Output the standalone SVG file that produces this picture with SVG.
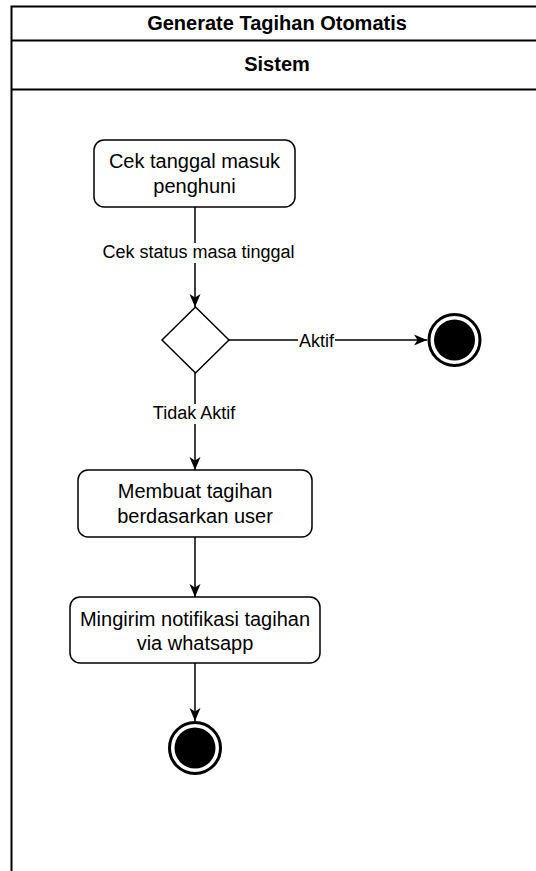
<svg xmlns="http://www.w3.org/2000/svg" width="536" height="871" viewBox="0 0 536 871">
  <style>
    .frame { fill: none; stroke: #000; stroke-width: 2; }
    .act { fill: #fff; stroke: #000; stroke-width: 1.5; }
    .edge { fill: none; stroke: #000; stroke-width: 1.5; }
    .txt { font-family: "Liberation Sans", Arial, sans-serif; font-size: 20px; fill: #000; text-anchor: middle; }
    .hdr { font-family: "Liberation Sans", Arial, sans-serif; font-size: 20px; font-weight: bold; fill: #000; text-anchor: middle; }
    .lbl { font-family: "Liberation Sans", Arial, sans-serif; font-size: 18px; fill: #000; text-anchor: middle; }
    .lblbg { fill: #fff; }
  </style>
  <defs>
    <marker id="arrow" viewBox="0 0 14 14" refX="13" refY="7" markerWidth="14" markerHeight="14" markerUnits="userSpaceOnUse" orient="auto">
      <path d="M0,1.5 L13,7 L0,12.5 L3.5,7 Z" fill="#000"/>
    </marker>
  </defs>
  <rect width="536" height="871" fill="#fff"/>

  <!-- swimlane frame -->
  <g id="swimlane">
    <path class="frame" d="M545,6.5 H11.5 V880"/>
    <line class="frame" x1="11.5" y1="40.5" x2="545" y2="40.5"/>
    <line class="frame" x1="11.5" y1="89.5" x2="545" y2="89.5"/>
    <text class="hdr" x="277" y="30">Generate Tagihan Otomatis</text>
    <text class="hdr" x="277" y="71">Sistem</text>
  </g>

  <!-- connectors -->
  <g id="connectors">
    <line class="edge" x1="195" y1="207" x2="195" y2="307" marker-end="url(#arrow)"/>
    <rect class="lblbg" x="100" y="243" width="198" height="20"/>
    <text class="lbl" x="198.5" y="258">Cek status masa tinggal</text>

    <line class="edge" x1="229" y1="340" x2="427" y2="340" marker-end="url(#arrow)"/>
    <rect class="lblbg" x="298" y="331" width="37" height="20"/>
    <text class="lbl" x="316.5" y="347">Aktif</text>

    <line class="edge" x1="195" y1="373" x2="195" y2="470" marker-end="url(#arrow)"/>
    <rect class="lblbg" x="150" y="404" width="88" height="20"/>
    <text class="lbl" x="194" y="419">Tidak Aktif</text>

    <line class="edge" x1="195" y1="537" x2="195" y2="597" marker-end="url(#arrow)"/>
    <line class="edge" x1="195" y1="663" x2="195" y2="721" marker-end="url(#arrow)"/>
  </g>

  <g id="cek-tanggal">
    <rect class="act" x="94" y="140" width="201" height="67" rx="10"/>
    <text class="txt" x="194.5" y="168">Cek tanggal masuk</text>
    <text class="txt" x="194.5" y="193">penghuni</text>
  </g>

  <g id="decision">
    <polygon class="act" points="195.5,307 229,340 195.5,373 162,340"/>
  </g>

  <g id="end-aktif">
    <circle cx="454.5" cy="340" r="25.5" fill="#fff" stroke="#000" stroke-width="3"/>
    <circle cx="454.5" cy="340" r="20.5" fill="#000"/>
  </g>

  <g id="membuat-tagihan">
    <rect class="act" x="78" y="470" width="234" height="67" rx="10"/>
    <text class="txt" x="195" y="498">Membuat tagihan</text>
    <text class="txt" x="195" y="523">berdasarkan user</text>
  </g>

  <g id="kirim-notifikasi">
    <rect class="act" x="70" y="597" width="250" height="66" rx="10"/>
    <text class="txt" x="195" y="626">Mingirim notifikasi tagihan</text>
    <text class="txt" x="195" y="650">via whatsapp</text>
  </g>

  <g id="end-final">
    <circle cx="195" cy="748" r="25.5" fill="#fff" stroke="#000" stroke-width="3"/>
    <circle cx="195" cy="748" r="20.5" fill="#000"/>
  </g>
</svg>
